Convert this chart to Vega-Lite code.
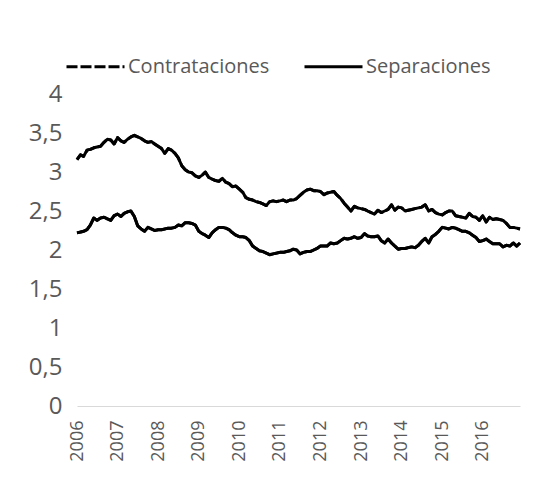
{
  "$schema": "https://vega.github.io/schema/vega-lite/v6.json",
  "width": 443,
  "height": 312,
  "autosize": {"type": "none"},
  "padding": {"left": 77, "top": 94, "right": 15, "bottom": 73},
  "background": "white",
  "config": {
    "view": {"stroke": null},
    "font": "Open Sans",
    "legend": {"symbolStrokeColor": "black", "symbolOpacity": 1}
  },
  "data": {
    "values": [
      {"fecha":"2006-01-01","Contrataciones":3.16,"Separaciones":2.22},
      {"fecha":"2006-02-01","Contrataciones":3.22,"Separaciones":2.23},
      {"fecha":"2006-03-01","Contrataciones":3.20,"Separaciones":2.24},
      {"fecha":"2006-04-01","Contrataciones":3.28,"Separaciones":2.26},
      {"fecha":"2006-05-01","Contrataciones":3.29,"Separaciones":2.32},
      {"fecha":"2006-06-01","Contrataciones":3.31,"Separaciones":2.41},
      {"fecha":"2006-07-01","Contrataciones":3.32,"Separaciones":2.38},
      {"fecha":"2006-08-01","Contrataciones":3.33,"Separaciones":2.41},
      {"fecha":"2006-09-01","Contrataciones":3.38,"Separaciones":2.42},
      {"fecha":"2006-10-01","Contrataciones":3.42,"Separaciones":2.40},
      {"fecha":"2006-11-01","Contrataciones":3.41,"Separaciones":2.38},
      {"fecha":"2006-12-01","Contrataciones":3.36,"Separaciones":2.44},
      {"fecha":"2007-01-01","Contrataciones":3.44,"Separaciones":2.46},
      {"fecha":"2007-02-01","Contrataciones":3.40,"Separaciones":2.43},
      {"fecha":"2007-03-01","Contrataciones":3.38,"Separaciones":2.47},
      {"fecha":"2007-04-01","Contrataciones":3.42,"Separaciones":2.49},
      {"fecha":"2007-05-01","Contrataciones":3.45,"Separaciones":2.50},
      {"fecha":"2007-06-01","Contrataciones":3.47,"Separaciones":2.43},
      {"fecha":"2007-07-01","Contrataciones":3.45,"Separaciones":2.31},
      {"fecha":"2007-08-01","Contrataciones":3.43,"Separaciones":2.27},
      {"fecha":"2007-09-01","Contrataciones":3.40,"Separaciones":2.24},
      {"fecha":"2007-10-01","Contrataciones":3.38,"Separaciones":2.29},
      {"fecha":"2007-11-01","Contrataciones":3.39,"Separaciones":2.27},
      {"fecha":"2007-12-01","Contrataciones":3.36,"Separaciones":2.25},
      {"fecha":"2008-01-01","Contrataciones":3.33,"Separaciones":2.26},
      {"fecha":"2008-02-01","Contrataciones":3.30,"Separaciones":2.26},
      {"fecha":"2008-03-01","Contrataciones":3.24,"Separaciones":2.27},
      {"fecha":"2008-04-01","Contrataciones":3.30,"Separaciones":2.28},
      {"fecha":"2008-05-01","Contrataciones":3.28,"Separaciones":2.28},
      {"fecha":"2008-06-01","Contrataciones":3.24,"Separaciones":2.29},
      {"fecha":"2008-07-01","Contrataciones":3.18,"Separaciones":2.32},
      {"fecha":"2008-08-01","Contrataciones":3.08,"Separaciones":2.31},
      {"fecha":"2008-09-01","Contrataciones":3.03,"Separaciones":2.35},
      {"fecha":"2008-10-01","Contrataciones":3.00,"Separaciones":2.35},
      {"fecha":"2008-11-01","Contrataciones":2.99,"Separaciones":2.34},
      {"fecha":"2008-12-01","Contrataciones":2.95,"Separaciones":2.32},
      {"fecha":"2009-01-01","Contrataciones":2.93,"Separaciones":2.24},
      {"fecha":"2009-02-01","Contrataciones":2.96,"Separaciones":2.21},
      {"fecha":"2009-03-01","Contrataciones":3.00,"Separaciones":2.19},
      {"fecha":"2009-04-01","Contrataciones":2.93,"Separaciones":2.16},
      {"fecha":"2009-05-01","Contrataciones":2.91,"Separaciones":2.22},
      {"fecha":"2009-06-01","Contrataciones":2.89,"Separaciones":2.26},
      {"fecha":"2009-07-01","Contrataciones":2.88,"Separaciones":2.29},
      {"fecha":"2009-08-01","Contrataciones":2.92,"Separaciones":2.29},
      {"fecha":"2009-09-01","Contrataciones":2.87,"Separaciones":2.28},
      {"fecha":"2009-10-01","Contrataciones":2.85,"Separaciones":2.26},
      {"fecha":"2009-11-01","Contrataciones":2.81,"Separaciones":2.22},
      {"fecha":"2009-12-01","Contrataciones":2.82,"Separaciones":2.19},
      {"fecha":"2010-01-01","Contrataciones":2.78,"Separaciones":2.17},
      {"fecha":"2010-02-01","Contrataciones":2.74,"Separaciones":2.17},
      {"fecha":"2010-03-01","Contrataciones":2.67,"Separaciones":2.16},
      {"fecha":"2010-04-01","Contrataciones":2.65,"Separaciones":2.12},
      {"fecha":"2010-05-01","Contrataciones":2.64,"Separaciones":2.05},
      {"fecha":"2010-06-01","Contrataciones":2.62,"Separaciones":2.02},
      {"fecha":"2010-07-01","Contrataciones":2.61,"Separaciones":1.99},
      {"fecha":"2010-08-01","Contrataciones":2.59,"Separaciones":1.98},
      {"fecha":"2010-09-01","Contrataciones":2.57,"Separaciones":1.96},
      {"fecha":"2010-10-01","Contrataciones":2.62,"Separaciones":1.94},
      {"fecha":"2010-11-01","Contrataciones":2.63,"Separaciones":1.95},
      {"fecha":"2010-12-01","Contrataciones":2.62,"Separaciones":1.96},
      {"fecha":"2011-01-01","Contrataciones":2.63,"Separaciones":1.97},
      {"fecha":"2011-02-01","Contrataciones":2.64,"Separaciones":1.97},
      {"fecha":"2011-03-01","Contrataciones":2.62,"Separaciones":1.98},
      {"fecha":"2011-04-01","Contrataciones":2.64,"Separaciones":1.99},
      {"fecha":"2011-05-01","Contrataciones":2.64,"Separaciones":2.01},
      {"fecha":"2011-06-01","Contrataciones":2.66,"Separaciones":2.00},
      {"fecha":"2011-07-01","Contrataciones":2.70,"Separaciones":1.95},
      {"fecha":"2011-08-01","Contrataciones":2.74,"Separaciones":1.97},
      {"fecha":"2011-09-01","Contrataciones":2.77,"Separaciones":1.98},
      {"fecha":"2011-10-01","Contrataciones":2.78,"Separaciones":1.98},
      {"fecha":"2011-11-01","Contrataciones":2.76,"Separaciones":2.00},
      {"fecha":"2011-12-01","Contrataciones":2.76,"Separaciones":2.02},
      {"fecha":"2012-01-01","Contrataciones":2.75,"Separaciones":2.05},
      {"fecha":"2012-02-01","Contrataciones":2.71,"Separaciones":2.05},
      {"fecha":"2012-03-01","Contrataciones":2.73,"Separaciones":2.05},
      {"fecha":"2012-04-01","Contrataciones":2.74,"Separaciones":2.09},
      {"fecha":"2012-05-01","Contrataciones":2.75,"Separaciones":2.08},
      {"fecha":"2012-06-01","Contrataciones":2.70,"Separaciones":2.09},
      {"fecha":"2012-07-01","Contrataciones":2.66,"Separaciones":2.12},
      {"fecha":"2012-08-01","Contrataciones":2.60,"Separaciones":2.15},
      {"fecha":"2012-09-01","Contrataciones":2.55,"Separaciones":2.14},
      {"fecha":"2012-10-01","Contrataciones":2.50,"Separaciones":2.15},
      {"fecha":"2012-11-01","Contrataciones":2.56,"Separaciones":2.17},
      {"fecha":"2012-12-01","Contrataciones":2.54,"Separaciones":2.15},
      {"fecha":"2013-01-01","Contrataciones":2.53,"Separaciones":2.16},
      {"fecha":"2013-02-01","Contrataciones":2.52,"Separaciones":2.21},
      {"fecha":"2013-03-01","Contrataciones":2.50,"Separaciones":2.18},
      {"fecha":"2013-04-01","Contrataciones":2.48,"Separaciones":2.17},
      {"fecha":"2013-05-01","Contrataciones":2.46,"Separaciones":2.17},
      {"fecha":"2013-06-01","Contrataciones":2.51,"Separaciones":2.18},
      {"fecha":"2013-07-01","Contrataciones":2.48,"Separaciones":2.12},
      {"fecha":"2013-08-01","Contrataciones":2.50,"Separaciones":2.09},
      {"fecha":"2013-09-01","Contrataciones":2.52,"Separaciones":2.14},
      {"fecha":"2013-10-01","Contrataciones":2.58,"Separaciones":2.09},
      {"fecha":"2013-11-01","Contrataciones":2.51,"Separaciones":2.05},
      {"fecha":"2013-12-01","Contrataciones":2.55,"Separaciones":2.01},
      {"fecha":"2014-01-01","Contrataciones":2.54,"Separaciones":2.02},
      {"fecha":"2014-02-01","Contrataciones":2.50,"Separaciones":2.02},
      {"fecha":"2014-03-01","Contrataciones":2.51,"Separaciones":2.03},
      {"fecha":"2014-04-01","Contrataciones":2.52,"Separaciones":2.04},
      {"fecha":"2014-05-01","Contrataciones":2.53,"Separaciones":2.03},
      {"fecha":"2014-06-01","Contrataciones":2.54,"Separaciones":2.06},
      {"fecha":"2014-07-01","Contrataciones":2.55,"Separaciones":2.11},
      {"fecha":"2014-08-01","Contrataciones":2.58,"Separaciones":2.15},
      {"fecha":"2014-09-01","Contrataciones":2.50,"Separaciones":2.09},
      {"fecha":"2014-10-01","Contrataciones":2.52,"Separaciones":2.17},
      {"fecha":"2014-11-01","Contrataciones":2.48,"Separaciones":2.20},
      {"fecha":"2014-12-01","Contrataciones":2.46,"Separaciones":2.24},
      {"fecha":"2015-01-01","Contrataciones":2.45,"Separaciones":2.29},
      {"fecha":"2015-02-01","Contrataciones":2.48,"Separaciones":2.28},
      {"fecha":"2015-03-01","Contrataciones":2.50,"Separaciones":2.27},
      {"fecha":"2015-04-01","Contrataciones":2.50,"Separaciones":2.29},
      {"fecha":"2015-05-01","Contrataciones":2.44,"Separaciones":2.28},
      {"fecha":"2015-06-01","Contrataciones":2.43,"Separaciones":2.26},
      {"fecha":"2015-07-01","Contrataciones":2.42,"Separaciones":2.24},
      {"fecha":"2015-08-01","Contrataciones":2.41,"Separaciones":2.24},
      {"fecha":"2015-09-01","Contrataciones":2.47,"Separaciones":2.22},
      {"fecha":"2015-10-01","Contrataciones":2.43,"Separaciones":2.19},
      {"fecha":"2015-11-01","Contrataciones":2.42,"Separaciones":2.16},
      {"fecha":"2015-12-01","Contrataciones":2.38,"Separaciones":2.11},
      {"fecha":"2016-01-01","Contrataciones":2.44,"Separaciones":2.12},
      {"fecha":"2016-02-01","Contrataciones":2.36,"Separaciones":2.14},
      {"fecha":"2016-03-01","Contrataciones":2.42,"Separaciones":2.11},
      {"fecha":"2016-04-01","Contrataciones":2.39,"Separaciones":2.08},
      {"fecha":"2016-05-01","Contrataciones":2.40,"Separaciones":2.08},
      {"fecha":"2016-06-01","Contrataciones":2.39,"Separaciones":2.08},
      {"fecha":"2016-07-01","Contrataciones":2.38,"Separaciones":2.04},
      {"fecha":"2016-08-01","Contrataciones":2.34,"Separaciones":2.06},
      {"fecha":"2016-09-01","Contrataciones":2.29,"Separaciones":2.05},
      {"fecha":"2016-10-01","Contrataciones":2.29,"Separaciones":2.09},
      {"fecha":"2016-11-01","Contrataciones":2.28,"Separaciones":2.05},
      {"fecha":"2016-12-01","Contrataciones":2.27,"Separaciones":2.09}
    ]
  },
  "transform": [
    {"fold": ["Contrataciones", "Separaciones"], "as": ["serie", "valor"]}
  ],
  "encoding": {
    "x": {
      "field": "fecha",
      "type": "temporal",
      "scale": {
        "type": "utc",
        "nice": false,
        "domain": [
          {"year": 2006, "month": 1, "date": 1, "utc": true},
          {"year": 2016, "month": 12, "date": 1, "utc": true}
        ]
      },
      "axis": {
        "title": null,
        "values": [
          {"year": 2006, "utc": true}, {"year": 2007, "utc": true}, {"year": 2008, "utc": true},
          {"year": 2009, "utc": true}, {"year": 2010, "utc": true}, {"year": 2011, "utc": true},
          {"year": 2012, "utc": true}, {"year": 2013, "utc": true}, {"year": 2014, "utc": true},
          {"year": 2015, "utc": true}, {"year": 2016, "utc": true}
        ],
        "format": "%Y",
        "labelAngle": -90,
        "labelAlign": "right",
        "labelBaseline": "middle",
        "labelPadding": 14,
        "labelFontSize": 18,
        "labelColor": "#595959",
        "labelFlush": false,
        "labelOverlap": false,
        "ticks": false,
        "grid": false,
        "domain": true,
        "domainColor": "#d9d9d9",
        "domainWidth": 1
      }
    },
    "y": {
      "field": "valor",
      "type": "quantitative",
      "scale": {"domain": [0, 4], "nice": false, "zero": true},
      "axis": {
        "title": null,
        "values": [0, 0.5, 1, 1.5, 2, 2.5, 3, 3.5, 4],
        "labelExpr": "replace(toString(datum.value), '.', ',')",
        "labelFontSize": 24,
        "labelColor": "#595959",
        "labelPadding": 15,
        "ticks": false,
        "domain": false,
        "grid": false
      }
    }
  },
  "layer": [
    {
      "mark": {"type": "line", "color": "black", "strokeWidth": 3, "strokeJoin": "round"},
      "encoding": {"detail": {"field": "serie", "type": "nominal"}}
    },
    {
      "mark": {"type": "line", "color": "black", "strokeWidth": 3, "strokeJoin": "round"},
      "encoding": {
        "strokeDash": {
          "field": "serie",
          "type": "nominal",
          "scale": {"domain": ["Contrataciones", "Separaciones"], "range": [[11, 3], [1, 0]]},
          "legend": {
            "title": null,
            "orient": "none",
            "direction": "horizontal",
            "legendX": -12,
            "legendY": -58,
            "symbolType": "stroke",
            "symbolSize": 3364,
            "symbolStrokeWidth": 3,
            "symbolStrokeColor": "black",
            "labelFontSize": 20,
            "labelColor": "#595959",
            "labelOffset": 2,
            "columnPadding": 28,
            "padding": 0
          }
        }
      }
    }
  ]
}
